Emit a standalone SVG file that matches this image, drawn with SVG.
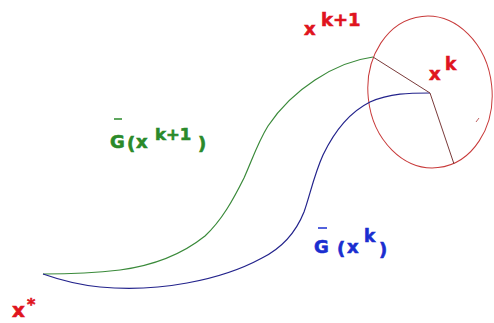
<svg xmlns="http://www.w3.org/2000/svg" width="494" height="323" viewBox="0 0 494 323">
<style>
.lbl{font-family:"DejaVu Sans","Liberation Sans",sans-serif;font-weight:bold;stroke-width:0.6}
.red{fill:#e0141e;stroke:#e0141e}
.grn{fill:#2a8a2a;stroke:#2a8a2a}
.blu{fill:#1a2ed0;stroke:#1a2ed0}
.cv{fill:none;stroke-width:1.2}
</style>
<rect width="494" height="323" fill="#ffffff"/>
<g id="region">
<ellipse cx="430" cy="92" rx="62" ry="76" transform="rotate(-6 430 92)" fill="none" stroke="#c83a3a" stroke-width="1"/>
<line x1="476" y1="122" x2="479" y2="118" stroke="#c06060" stroke-width="1"/>
</g>
<g id="connectors">
<path id="g-curve" class="cv" stroke="#3a8a3a" d="M373,57 C350,60 333,68 315,80 C295,93 280,108 268,126 C258,142 252,160 244,178 C233,200 222,220 205,236 C180,256 150,266 120,270 C95,273 65,274 43,274"/>
<path id="b-curve" class="cv" stroke="#23238c" d="M430,93 C410,93 390,93 370,102 C350,112 335,130 323,155 C314,175 310,195 304,212 C296,232 282,248 262,258 C240,270 215,278 187,283 C160,288 130,290 100,287 C80,285 60,280 43,274"/>
<line x1="373" y1="57" x2="430" y2="93" stroke="#7a3a3a" stroke-width="1"/>
<line x1="430" y1="93" x2="454" y2="164" stroke="#7a3a3a" stroke-width="1"/>
</g>
<g id="xk1">
<text class="lbl red" x="304" y="35" font-size="18">x</text>
<text class="lbl red" x="321" y="26" font-size="18">k+1</text>
</g>
<g id="xk">
<text class="lbl red" x="429" y="80" font-size="18">x</text>
<text class="lbl red" x="445" y="70" font-size="17">k</text>
</g>
<g id="gk1">
<line x1="114" y1="119" x2="122" y2="119" stroke="#2a8a2a" stroke-width="1.5"/>
<text class="lbl grn" font-size="18"><tspan x="110" y="148">G</tspan><tspan x="127" y="150">(</tspan><tspan x="136" y="148">x</tspan></text>
<text class="lbl grn" x="155" y="140" font-size="16.5">k+1</text>
<text class="lbl grn" x="198" y="150" font-size="18">)</text>
</g>
<g id="gk">
<line x1="318" y1="228" x2="327" y2="228" stroke="#1a2ed0" stroke-width="1.5"/>
<text class="lbl blu" font-size="18"><tspan x="314" y="253">G</tspan><tspan x="337" y="255">(</tspan><tspan x="347" y="253">x</tspan></text>
<text class="lbl blu" x="364" y="242" font-size="17">k</text>
<text class="lbl blu" x="379" y="256" font-size="18">)</text>
</g>
<g id="xstar">
<text class="lbl red" x="12" y="317" font-size="20">x</text>
<text class="lbl red" x="27" y="310" font-size="16">*</text>
</g>
</svg>
